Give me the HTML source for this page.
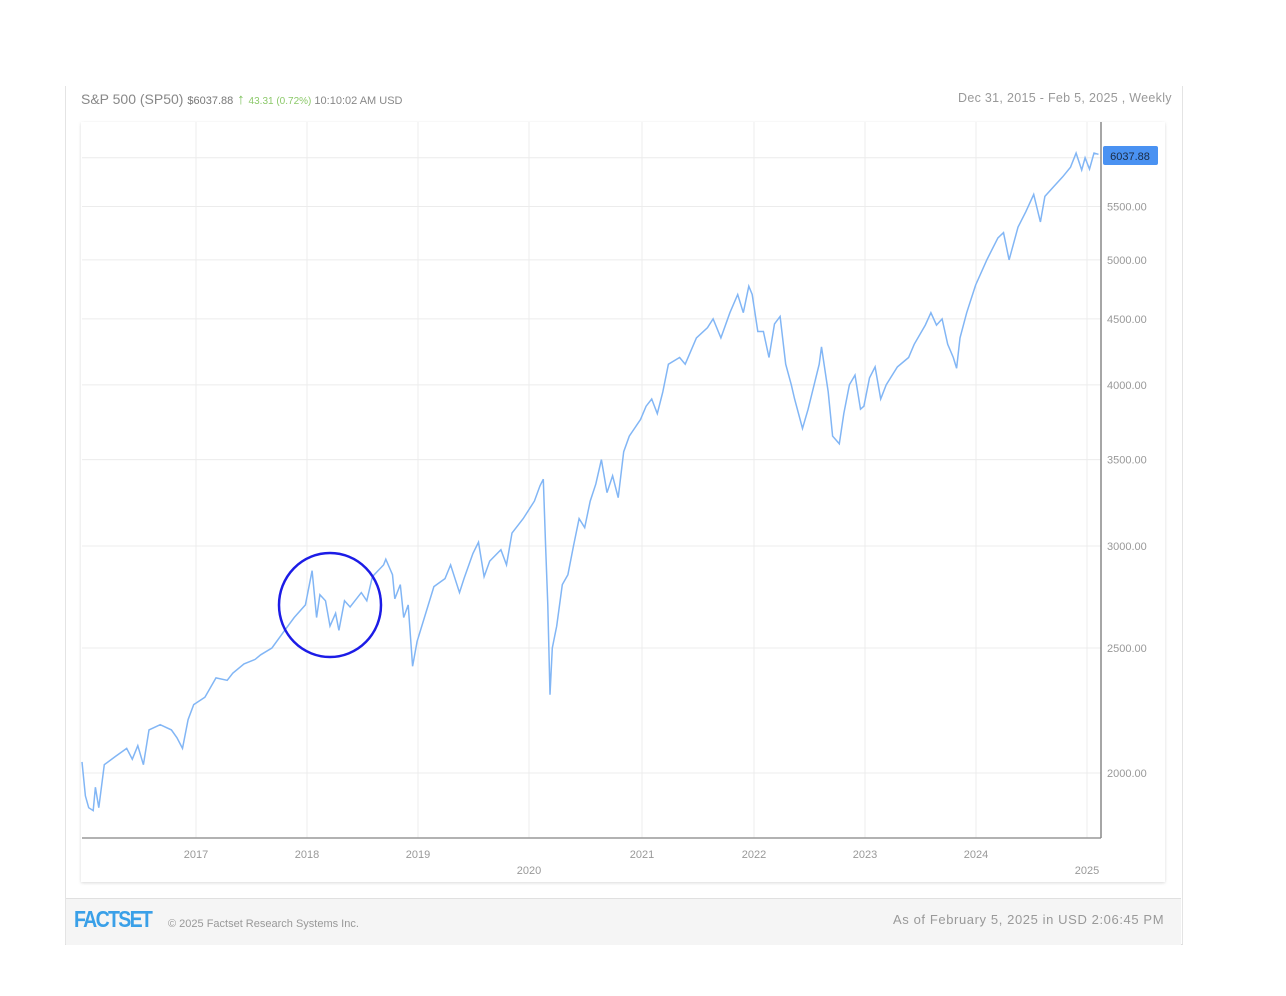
<!DOCTYPE html>
<html><head><meta charset="utf-8"><style>
body{margin:0;width:1286px;height:996px;background:#fff;font-family:"Liberation Sans",sans-serif;position:relative;overflow:hidden}
.t{position:absolute;white-space:nowrap}
</style></head><body>
<div style="position:absolute;left:65px;top:86px;width:1116px;height:858px;border-left:1px solid #e4e4e4;border-right:1px solid #e4e4e4;border-bottom:1px solid #ddd"></div>
<div style="position:absolute;left:66px;top:898px;width:1115px;height:46px;background:#f5f5f5;border-top:1px solid #e0e0e0"></div>
<div style="position:absolute;left:81px;top:122px;width:1084px;height:760px;box-shadow:0 1px 3px rgba(0,0,0,0.15);background:#fff"></div>
<div class="t" style="left:81px;top:91px;font-size:14px;color:#888">S&amp;P 500 (SP50) <span style="font-size:11px;color:#777">$6037.88</span> <span style="color:#7cc15a;font-size:15px">↑</span> <span style="font-size:10px;color:#8cc96a">43.31 (0.72%)</span><span style="font-size:11px;color:#888"> 10:10:02 AM USD</span></div>
<div class="t" style="left:958px;top:91px;font-size:12.5px;color:#999;letter-spacing:0.3px">Dec 31, 2015 - Feb 5, 2025 , Weekly</div>
<svg style="position:absolute;left:0;top:0" width="1286" height="996" id="s">
<g stroke="#ececec" stroke-width="1" id="grid"></g>
<line x1="82" y1="838" x2="1101" y2="838" stroke="#999" stroke-width="1.5"/>
<line x1="1101" y1="122" x2="1101" y2="838" stroke="#888" stroke-width="1.5"/>
<polyline id="p" fill="none" stroke="#82b6f5" stroke-width="1.5"/>
<ellipse cx="330" cy="605" rx="51" ry="52" fill="none" stroke="#1c1ce6" stroke-width="2.5"/>
<rect x="1103" y="146" width="55" height="19" rx="2" fill="#4a92f2"/>
<text x="1130" y="160" font-size="11" text-anchor="middle" fill="#1b2b44" font-family="Liberation Sans">6037.88</text>
<g id="lab" font-family="Liberation Sans" font-size="11" fill="#999"></g>
</svg>
<div class="t" style="left:74px;top:906px;font-size:23px;font-weight:bold;color:#3aa0e8;letter-spacing:-2px;transform:scaleX(0.85);transform-origin:left">FACTSET</div>
<div class="t" style="left:168px;top:918px;font-size:11px;color:#999">© 2025 Factset Research Systems Inc.</div>
<div class="t" style="left:893px;top:912px;font-size:13px;color:#999;letter-spacing:0.6px">As of February 5, 2025 in USD 2:06:45 PM</div>
<script>
function Y(v){return 773-560*Math.log(v/2000)}
function X(t){return 82+(t-2016)*111.7}
var g=document.getElementById('grid'),lab=document.getElementById('lab'),h='',l='';
[6000,5500,5000,4500,4000,3500,3000,2500,2000].forEach(function(v){var y=Y(v);h+='<line x1="82" x2="1101" y1="'+y+'" y2="'+y+'"/>';if(v<6000)l+='<text x="1107" y="'+(y+4)+'">'+v+'.00</text>';});
var yrs=[196,307,418,529,642,754,865,976,1087];
yrs.forEach(function(x,i){h+='<line x1="'+x+'" x2="'+x+'" y1="122" y2="838"/>';var yr=2017+i;l+='<text x="'+x+'" y="'+(yr==2020||yr==2025?874:858)+'" text-anchor="middle">'+yr+'</text>';});
g.innerHTML=h;lab.innerHTML=l;
var d=[2016.0,2040,2016.03,1920,2016.06,1880,2016.1,1870,2016.12,1950,2016.15,1880,2016.2,2030,2016.3,2060,2016.4,2090,2016.45,2050,2016.5,2100,2016.55,2030,2016.6,2160,2016.7,2180,2016.8,2160,2016.85,2130,2016.9,2090,2016.95,2200,2017.0,2260,2017.1,2290,2017.2,2370,2017.3,2360,2017.35,2390,2017.45,2430,2017.55,2450,2017.6,2470,2017.7,2500,2017.8,2570,2017.9,2640,2018.0,2700,2018.06,2870,2018.1,2640,2018.13,2750,2018.18,2720,2018.22,2600,2018.27,2660,2018.3,2580,2018.35,2720,2018.4,2690,2018.5,2760,2018.55,2720,2018.6,2840,2018.7,2900,2018.72,2930,2018.78,2850,2018.8,2730,2018.85,2800,2018.88,2640,2018.92,2700,2018.96,2420,2019.0,2530,2019.1,2700,2019.15,2790,2019.25,2830,2019.3,2900,2019.38,2760,2019.42,2830,2019.5,2960,2019.55,3020,2019.6,2840,2019.65,2920,2019.75,2980,2019.8,2900,2019.85,3070,2019.95,3150,2020.05,3250,2020.1,3340,2020.13,3380,2020.15,3000,2020.17,2700,2020.19,2300,2020.21,2500,2020.25,2600,2020.3,2800,2020.35,2850,2020.4,3000,2020.45,3150,2020.5,3100,2020.55,3250,2020.6,3350,2020.65,3500,2020.7,3300,2020.75,3400,2020.8,3270,2020.85,3550,2020.9,3650,2021.0,3760,2021.05,3850,2021.1,3900,2021.15,3800,2021.2,3950,2021.25,4150,2021.35,4200,2021.4,4150,2021.5,4350,2021.6,4430,2021.65,4500,2021.72,4350,2021.8,4550,2021.87,4700,2021.92,4550,2021.97,4770,2022.0,4700,2022.05,4400,2022.1,4400,2022.15,4200,2022.2,4460,2022.25,4520,2022.3,4150,2022.35,4000,2022.38,3900,2022.45,3700,2022.5,3830,2022.6,4150,2022.62,4280,2022.68,3950,2022.72,3650,2022.78,3600,2022.82,3800,2022.87,4000,2022.92,4070,2022.97,3830,2023.0,3850,2023.05,4050,2023.1,4130,2023.15,3900,2023.2,4000,2023.3,4130,2023.4,4200,2023.45,4300,2023.55,4450,2023.6,4550,2023.65,4450,2023.7,4500,2023.75,4300,2023.8,4200,2023.83,4120,2023.86,4350,2023.92,4550,2024.0,4780,2024.1,5000,2024.2,5200,2024.25,5250,2024.3,5000,2024.38,5300,2024.45,5450,2024.52,5620,2024.58,5350,2024.62,5600,2024.7,5700,2024.78,5800,2024.85,5900,2024.9,6050,2024.95,5870,2024.98,6000,2025.02,5880,2025.06,6050,2025.1,6037];
var pts=[];for(var i=0;i<d.length;i+=2)pts.push(X(d[i]).toFixed(1)+','+Y(d[i+1]).toFixed(1));
document.getElementById('p').setAttribute('points',pts.join(' '));
</script>
</body></html>
